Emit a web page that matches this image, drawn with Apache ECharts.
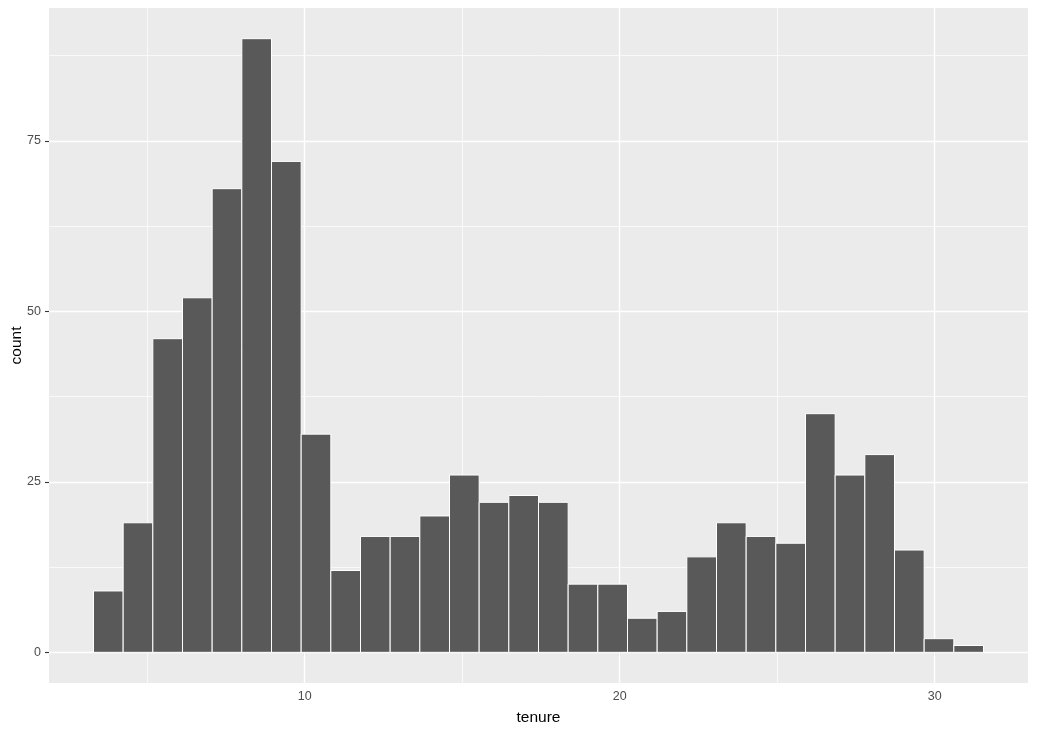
<!DOCTYPE html>
<html>
<head>
<meta charset="utf-8">
<script src="https://cdn.jsdelivr.net/npm/echarts@6/dist/echarts.min.js"></script>
<style>
html,body{margin:0;padding:0;background:#fff;}
#chart{width:1037px;height:733px;}
</style>
</head>
<body>
<div id="chart"></div>
<script>
// Histogram of tenure (30 bins)
const binStart = 3.295;      // left edge of first bin
const binWidth = 0.9418;     // bin width
const counts = [9, 19, 46, 52, 68, 90, 72, 32, 12, 17, 17, 20, 26, 22, 23, 22, 10, 10, 5, 6, 14, 19, 17, 16, 35, 26, 29, 15, 2, 1];
const xTicks = [10, 20, 30];
const xMinor = [5, 15, 25];
const yTicks = [0, 25, 50, 75];
const yMinor = [12.5, 37.5, 62.5, 87.5];
const xTitle = 'tenure';
const yTitle = 'count';

const bins = counts.map((c, i) => [binStart + i * binWidth, binStart + (i + 1) * binWidth, c]);
const xLo = binStart, xHi = binStart + counts.length * binWidth;
const xPad = (xHi - xLo) * 0.05;
const yMax = Math.max(...counts);
const yPad = yMax * 0.05;

const gridLines = [];
xMinor.forEach(v => gridLines.push({xAxis: v, lineStyle: {width: 0.7}}));
yMinor.forEach(v => gridLines.push({yAxis: v, lineStyle: {width: 0.7}}));
xTicks.forEach(v => gridLines.push({xAxis: v, lineStyle: {width: 1.4}}));
yTicks.forEach(v => gridLines.push({yAxis: v, lineStyle: {width: 1.4}}));

const FONT = 'Liberation Sans, Arial, sans-serif';
const labelFont = {color: '#4D4D4D', fontSize: 12.5, fontFamily: FONT};

const chart = echarts.init(document.getElementById('chart'), null, {renderer: 'canvas'});
chart.setOption({
  animation: false,
  backgroundColor: '#ffffff',
  grid: {left: 49, right: 9, top: 8, bottom: 50, containLabel: false, outerBoundsMode: 'none',
         show: true, backgroundColor: '#EBEBEB', borderWidth: 0},
  xAxis: {
    type: 'value', min: xLo - xPad, max: xHi + xPad,
    name: xTitle, nameLocation: 'middle', nameGap: 27, nameMoveOverlap: false,
    nameTextStyle: {color: '#000', fontSize: 15.5, fontFamily: FONT},
    axisLine: {show: false},
    axisTick: {show: true, length: 4, customValues: xTicks, lineStyle: {color: '#333333', width: 1.1}},
    axisLabel: Object.assign({customValues: xTicks, margin: 7, formatter: v => String(v)}, labelFont),
    splitLine: {show: false}
  },
  yAxis: {
    type: 'value', min: -yPad, max: yMax + yPad,
    name: yTitle, nameLocation: 'middle', nameGap: 32.5, nameRotate: 90, nameMoveOverlap: false,
    nameTextStyle: {color: '#000', fontSize: 15.5, fontFamily: FONT, align: 'center', verticalAlign: 'middle'},
    axisLine: {show: false},
    axisTick: {show: true, length: 4, customValues: yTicks, lineStyle: {color: '#333333', width: 1.1}},
    axisLabel: Object.assign({customValues: yTicks, margin: 8, formatter: v => String(v)}, labelFont),
    splitLine: {show: false}
  },
  series: [
    {
      type: 'scatter', data: [], z: 1, silent: true,
      markLine: {
        z: 1, silent: true, symbol: ['none', 'none'], label: {show: false},
        lineStyle: {color: '#ffffff', type: 'solid'},
        emphasis: {disabled: true},
        data: gridLines
      }
    },
    {
      type: 'custom', z: 10, silent: true,
      data: bins,
      encode: {x: [0, 1], y: 2},
      renderItem: function (params, api) {
        const p0 = api.coord([api.value(0), api.value(2)]);
        const p1 = api.coord([api.value(1), 0]);
        return {
          type: 'rect',
          shape: {x: p0[0], y: p0[1], width: p1[0] - p0[0], height: p1[1] - p0[1]},
          style: {fill: '#595959', stroke: '#ffffff', lineWidth: 1}
        };
      }
    }
  ]
});
</script>
</body>
</html>
